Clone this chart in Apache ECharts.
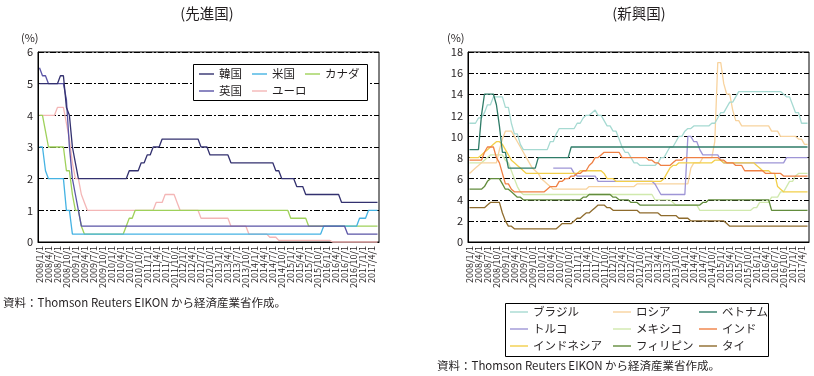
<!DOCTYPE html>
<html>
<head>
<meta charset="utf-8">
<script src="https://cdn.jsdelivr.net/npm/echarts@6/dist/echarts.min.js"></script>
<style>
  html, body { margin: 0; padding: 0; background: #fff; }
  #main { width: 814px; height: 376px; }
</style>
</head>
<body>
<div id="main"></div>
<script>
// monthly categories 2008/1 .. 2017/6
const YEARS = [2008, 2009, 2010, 2011, 2012, 2013, 2014, 2015, 2016, 2017];
const MONTHS = [];
YEARS.forEach(function (y) {
  for (let m = 1; m <= 12; m++) MONTHS.push(y + '/' + m + '/1');
});
MONTHS.length = 114;

// ---- 先進国 (%)
const KOREA = [
  5, 5, 5, 5, 5, 5, 5, 5.25, 5.25, 4.25, 4, 3,
  2.5, 2, 2, 2, 2, 2, 2, 2, 2, 2, 2, 2,
  2, 2, 2, 2, 2, 2, 2.25, 2.25, 2.25, 2.25, 2.5, 2.5,
  2.75, 2.75, 3, 3, 3, 3.25, 3.25, 3.25, 3.25, 3.25, 3.25, 3.25,
  3.25, 3.25, 3.25, 3.25, 3.25, 3.25, 3, 3, 3, 2.75, 2.75, 2.75,
  2.75, 2.75, 2.75, 2.75, 2.5, 2.5, 2.5, 2.5, 2.5, 2.5, 2.5, 2.5,
  2.5, 2.5, 2.5, 2.5, 2.5, 2.5, 2.5, 2.25, 2.25, 2, 2, 2,
  2, 2, 1.75, 1.75, 1.75, 1.5, 1.5, 1.5, 1.5, 1.5, 1.5, 1.5,
  1.5, 1.5, 1.5, 1.5, 1.5, 1.25, 1.25, 1.25, 1.25, 1.25, 1.25, 1.25,
  1.25, 1.25, 1.25, 1.25, 1.25, 1.25
];
const US = [
  3, 3, 2.25, 2, 2, 2, 2, 2, 2, 1, 1, 0.25,
  0.25, 0.25, 0.25, 0.25, 0.25, 0.25, 0.25, 0.25, 0.25, 0.25, 0.25, 0.25,
  0.25, 0.25, 0.25, 0.25, 0.25, 0.25, 0.25, 0.25, 0.25, 0.25, 0.25, 0.25,
  0.25, 0.25, 0.25, 0.25, 0.25, 0.25, 0.25, 0.25, 0.25, 0.25, 0.25, 0.25,
  0.25, 0.25, 0.25, 0.25, 0.25, 0.25, 0.25, 0.25, 0.25, 0.25, 0.25, 0.25,
  0.25, 0.25, 0.25, 0.25, 0.25, 0.25, 0.25, 0.25, 0.25, 0.25, 0.25, 0.25,
  0.25, 0.25, 0.25, 0.25, 0.25, 0.25, 0.25, 0.25, 0.25, 0.25, 0.25, 0.25,
  0.25, 0.25, 0.25, 0.25, 0.25, 0.25, 0.25, 0.25, 0.25, 0.25, 0.25, 0.5,
  0.5, 0.5, 0.5, 0.5, 0.5, 0.5, 0.5, 0.5, 0.5, 0.5, 0.5, 0.75,
  0.75, 0.75, 1, 1, 1, 1
];
const CANADA = [
  4, 4, 3.5, 3, 3, 3, 3, 3, 3, 2.25, 2.25, 1.5,
  1, 1, 0.5, 0.25, 0.25, 0.25, 0.25, 0.25, 0.25, 0.25, 0.25, 0.25,
  0.25, 0.25, 0.25, 0.25, 0.25, 0.5, 0.75, 0.75, 1, 1, 1, 1,
  1, 1, 1, 1, 1, 1, 1, 1, 1, 1, 1, 1,
  1, 1, 1, 1, 1, 1, 1, 1, 1, 1, 1, 1,
  1, 1, 1, 1, 1, 1, 1, 1, 1, 1, 1, 1,
  1, 1, 1, 1, 1, 1, 1, 1, 1, 1, 1, 1,
  0.75, 0.75, 0.75, 0.75, 0.75, 0.75, 0.5, 0.5, 0.5, 0.5, 0.5, 0.5,
  0.5, 0.5, 0.5, 0.5, 0.5, 0.5, 0.5, 0.5, 0.5, 0.5, 0.5, 0.5,
  0.5, 0.5, 0.5, 0.5, 0.5, 0.5
];
const UK = [
  5.5, 5.25, 5.25, 5, 5, 5, 5, 5, 5, 4.5, 3, 2,
  1.5, 1, 0.5, 0.5, 0.5, 0.5, 0.5, 0.5, 0.5, 0.5, 0.5, 0.5,
  0.5, 0.5, 0.5, 0.5, 0.5, 0.5, 0.5, 0.5, 0.5, 0.5, 0.5, 0.5,
  0.5, 0.5, 0.5, 0.5, 0.5, 0.5, 0.5, 0.5, 0.5, 0.5, 0.5, 0.5,
  0.5, 0.5, 0.5, 0.5, 0.5, 0.5, 0.5, 0.5, 0.5, 0.5, 0.5, 0.5,
  0.5, 0.5, 0.5, 0.5, 0.5, 0.5, 0.5, 0.5, 0.5, 0.5, 0.5, 0.5,
  0.5, 0.5, 0.5, 0.5, 0.5, 0.5, 0.5, 0.5, 0.5, 0.5, 0.5, 0.5,
  0.5, 0.5, 0.5, 0.5, 0.5, 0.5, 0.5, 0.5, 0.5, 0.5, 0.5, 0.5,
  0.5, 0.5, 0.5, 0.5, 0.5, 0.5, 0.5, 0.25, 0.25, 0.25, 0.25, 0.25,
  0.25, 0.25, 0.25, 0.25, 0.25, 0.25
];
const EURO = [
  4, 4, 4, 4, 4, 4, 4.25, 4.25, 4.25, 3.75, 3.25, 2.5,
  2, 2, 1.5, 1.25, 1, 1, 1, 1, 1, 1, 1, 1,
  1, 1, 1, 1, 1, 1, 1, 1, 1, 1, 1, 1,
  1, 1, 1, 1.25, 1.25, 1.25, 1.5, 1.5, 1.5, 1.5, 1.25, 1,
  1, 1, 1, 1, 1, 1, 0.75, 0.75, 0.75, 0.75, 0.75, 0.75,
  0.75, 0.75, 0.75, 0.75, 0.5, 0.5, 0.5, 0.5, 0.5, 0.5, 0.25, 0.25,
  0.25, 0.25, 0.25, 0.25, 0.25, 0.15, 0.15, 0.15, 0.05, 0.05, 0.05, 0.05,
  0.05, 0.05, 0.05, 0.05, 0.05, 0.05, 0.05, 0.05, 0.05, 0.05, 0.05, 0.05,
  0.05, 0.05, 0, 0, 0, 0, 0, 0, 0, 0, 0, 0,
  0, 0, 0, 0, 0, 0
];

// ---- 新興国 (%)
const BRAZIL = [
  11.25, 11.25, 11.25, 11.75, 11.75, 12.25, 13, 13, 13.75, 13.75, 13.75, 13.75,
  12.75, 12.75, 11.25, 10.25, 10.25, 9.25, 8.75, 8.75, 8.75, 8.75, 8.75, 8.75,
  8.75, 8.75, 8.75, 9.5, 9.5, 10.25, 10.75, 10.75, 10.75, 10.75, 10.75, 10.75,
  11.25, 11.25, 11.75, 12, 12, 12.25, 12.5, 12, 12, 11.5, 11, 11,
  10.5, 10.5, 9.75, 9, 8.5, 8.5, 8, 7.5, 7.5, 7.25, 7.25, 7.25,
  7.25, 7.25, 7.25, 7.5, 8, 8, 8.5, 9, 9, 9.5, 10, 10,
  10.5, 10.75, 10.75, 11, 11, 11, 11, 11, 11, 11.25, 11.25, 11.75,
  12.25, 12.25, 12.75, 13.25, 13.25, 13.75, 14.25, 14.25, 14.25, 14.25, 14.25, 14.25,
  14.25, 14.25, 14.25, 14.25, 14.25, 14.25, 14.25, 14.25, 14.25, 14, 13.75, 13.75,
  13, 12.25, 12.25, 11.25, 11.25, 11.25
];
const RUSSIA = [
  6.5, 6.75, 7, 7.25, 7.5, 7.5, 7.5, 7.5, 7.5, 7.5, 8.75, 9.75,
  10.5, 10.5, 10.5, 10, 9.5, 9, 8.5, 8, 7.5, 7, 6.75, 6.5,
  6, 5.75, 5.5, 5.25, 5, 5, 5, 5, 5, 5, 5, 5,
  5, 5, 5, 5, 5.25, 5.25, 5.25, 5.25, 5.25, 5.25, 5.25, 5.25,
  5.25, 5.25, 5.25, 5.25, 5.25, 5.25, 5.25, 5.25, 5.5, 5.5, 5.5, 5.5,
  5.5, 5.5, 5.5, 5.5, 5.5, 5.5, 5.5, 5.5, 5.5, 5.5, 5.5, 5.5,
  5.5, 5.5, 7, 7.5, 7.5, 7.5, 8, 8, 8, 8, 9.5, 17,
  17, 15, 14, 14, 12.5, 11.5, 11.5, 11, 11, 11, 11, 11,
  11, 11, 11, 11, 11, 10.5, 10.5, 10.5, 10, 10, 10, 10,
  10, 10, 9.75, 9.75, 9.25, 9.25
];
const VIETNAM = [
  8.75, 8.75, 8.75, 8.75, 12, 14, 14, 14, 14, 13, 11, 8.5,
  8.5, 7, 7, 7, 7, 7, 7, 7, 7, 7, 7, 8,
  8, 8, 8, 8, 8, 8, 8, 8, 8, 8, 9, 9,
  9, 9, 9, 9, 9, 9, 9, 9, 9, 9, 9, 9,
  9, 9, 9, 9, 9, 9, 9, 9, 9, 9, 9, 9,
  9, 9, 9, 9, 9, 9, 9, 9, 9, 9, 9, 9,
  9, 9, 9, 9, 9, 9, 9, 9, 9, 9, 9, 9,
  9, 9, 9, 9, 9, 9, 9, 9, 9, 9, 9, 9,
  9, 9, 9, 9, 9, 9, 9, 9, 9, 9, 9, 9,
  9, 9, 9, 9, 9, 9
];
const TURKEY = [
  null, null, null, null, null, null, null, null, null, null, null, null,
  null, null, null, null, null, null, null, null, null, null, null, null,
  null, null, null, null, 7, 7, 7, 7, 7, 7, 7, 6.5,
  6.25, 6.25, 6.25, 6.25, 6.25, 6.25, 6.25, 5.75, 5.75, 5.75, 5.75, 5.75,
  5.75, 5.75, 5.75, 5.75, 5.75, 5.75, 5.75, 5.75, 5.75, 5.75, 5.75, 5.75,
  5.75, 5.75, 5.5, 5, 4.5, 4.5, 4.5, 4.5, 4.5, 4.5, 4.5, 4.5,
  4.5, 10, 10, 9.5, 9.5, 8.75, 8.25, 8.25, 8.25, 8.25, 8.25, 8.25,
  7.75, 7.5, 7.5, 7.5, 7.5, 7.5, 7.5, 7.5, 7.5, 7.5, 7.5, 7.5,
  7.5, 7.5, 7.5, 7.5, 7.5, 7.5, 7.5, 7.5, 7.5, 7.5, 8, 8,
  8, 8, 8, 8, 8, 8
];
const MEXICO = [
  7.5, 7.5, 7.5, 7.5, 7.5, 7.75, 8, 8.25, 8.25, 8.25, 8.25, 8.25,
  7.75, 7.5, 6.75, 6, 5.25, 4.75, 4.5, 4.5, 4.5, 4.5, 4.5, 4.5,
  4.5, 4.5, 4.5, 4.5, 4.5, 4.5, 4.5, 4.5, 4.5, 4.5, 4.5, 4.5,
  4.5, 4.5, 4.5, 4.5, 4.5, 4.5, 4.5, 4.5, 4.5, 4.5, 4.5, 4.5,
  4.5, 4.5, 4.5, 4.5, 4.5, 4.5, 4.5, 4.5, 4.5, 4.5, 4.5, 4.5,
  4.5, 4.5, 4, 4, 4, 4, 4, 4, 3.75, 3.5, 3.5, 3.5,
  3.5, 3.5, 3.5, 3.5, 3.5, 3, 3, 3, 3, 3, 3, 3,
  3, 3, 3, 3, 3, 3, 3, 3, 3, 3, 3, 3.25,
  3.25, 3.75, 3.75, 3.75, 3.75, 4.25, 4.25, 4.25, 4.75, 4.75, 5.25, 5.75,
  5.75, 6.25, 6.5, 6.5, 6.5, 6.5
];
const INDIA = [
  7.75, 7.75, 7.75, 7.75, 7.75, 8.5, 9, 9, 9, 8, 7.5, 6.5,
  5.5, 5.5, 5, 4.75, 4.75, 4.75, 4.75, 4.75, 4.75, 4.75, 4.75, 4.75,
  4.75, 4.75, 5, 5.25, 5.25, 5.25, 5.75, 5.75, 6, 6, 6.25, 6.25,
  6.5, 6.5, 6.75, 6.75, 7.25, 7.5, 8, 8, 8.25, 8.5, 8.5, 8.5,
  8.5, 8.5, 8.5, 8, 8, 8, 8, 8, 8, 8, 8, 8,
  7.75, 7.75, 7.5, 7.5, 7.25, 7.25, 7.25, 7.25, 7.5, 7.75, 7.75, 7.75,
  8, 8, 8, 8, 8, 8, 8, 8, 8, 8, 8, 8,
  7.75, 7.75, 7.5, 7.5, 7.5, 7.25, 7.25, 7.25, 6.75, 6.75, 6.75, 6.75,
  6.75, 6.75, 6.75, 6.5, 6.5, 6.5, 6.5, 6.5, 6.5, 6.25, 6.25, 6.25,
  6.25, 6.25, 6.25, 6.25, 6.25, 6.25
];
const INDONESIA = [
  8, 8, 8, 8, 8.25, 8.5, 8.75, 9, 9.25, 9.5, 9.5, 9.25,
  8.75, 8.25, 7.75, 7.5, 7.25, 7, 6.75, 6.5, 6.5, 6.5, 6.5, 6.5,
  6.5, 6.5, 6.5, 6.5, 6.5, 6.5, 6.5, 6.5, 6.5, 6.5, 6.5, 6.5,
  6.5, 6.75, 6.75, 6.75, 6.75, 6.75, 6.75, 6.75, 6.75, 6.5, 6, 6,
  6, 5.75, 5.75, 5.75, 5.75, 5.75, 5.75, 5.75, 5.75, 5.75, 5.75, 5.75,
  5.75, 5.75, 5.75, 5.75, 5.75, 6, 6.5, 7, 7.25, 7.25, 7.5, 7.5,
  7.5, 7.5, 7.5, 7.5, 7.5, 7.5, 7.5, 7.5, 7.5, 7.5, 7.75, 7.75,
  7.75, 7.5, 7.5, 7.5, 7.5, 7.5, 7.5, 7.5, 7.5, 7.5, 7.5, 7.5,
  7.25, 7, 6.75, 6.75, 6.75, 6.5, 6.5, 5.25, 5, 4.75, 4.75, 4.75,
  4.75, 4.75, 4.75, 4.75, 4.75, 4.75
];
const PHILIPPINES = [
  5, 5, 5, 5, 5, 5.25, 5.75, 6, 6, 6, 6, 5.5,
  5, 5, 4.75, 4.5, 4.25, 4.25, 4, 4, 4, 4, 4, 4,
  4, 4, 4, 4, 4, 4, 4, 4, 4, 4, 4, 4,
  4, 4, 4.25, 4.25, 4.5, 4.5, 4.5, 4.5, 4.5, 4.5, 4.5, 4.5,
  4.25, 4.25, 4, 4, 4, 4, 3.75, 3.75, 3.75, 3.5, 3.5, 3.5,
  3.5, 3.5, 3.5, 3.5, 3.5, 3.5, 3.5, 3.5, 3.5, 3.5, 3.5, 3.5,
  3.5, 3.5, 3.5, 3.5, 3.5, 3.5, 3.75, 3.75, 4, 4, 4, 4,
  4, 4, 4, 4, 4, 4, 4, 4, 4, 4, 4, 4,
  4, 4, 4, 4, 4, 3, 3, 3, 3, 3, 3, 3,
  3, 3, 3, 3, 3, 3
];
const THAILAND = [
  3.25, 3.25, 3.25, 3.25, 3.25, 3.25, 3.5, 3.75, 3.75, 3.75, 3.75, 2.75,
  2, 1.5, 1.5, 1.25, 1.25, 1.25, 1.25, 1.25, 1.25, 1.25, 1.25, 1.25,
  1.25, 1.25, 1.25, 1.25, 1.25, 1.25, 1.5, 1.75, 1.75, 1.75, 1.75, 2,
  2.25, 2.25, 2.5, 2.75, 2.75, 3, 3.25, 3.5, 3.5, 3.5, 3.25, 3.25,
  3, 3, 3, 3, 3, 3, 3, 3, 3, 2.75, 2.75, 2.75,
  2.75, 2.75, 2.75, 2.75, 2.5, 2.5, 2.5, 2.5, 2.5, 2.5, 2.25, 2.25,
  2.25, 2.25, 2, 2, 2, 2, 2, 2, 2, 2, 2, 2,
  2, 2, 1.75, 1.5, 1.5, 1.5, 1.5, 1.5, 1.5, 1.5, 1.5, 1.5,
  1.5, 1.5, 1.5, 1.5, 1.5, 1.5, 1.5, 1.5, 1.5, 1.5, 1.5, 1.5,
  1.5, 1.5, 1.5, 1.5, 1.5, 1.5
];

const FONT = '"Noto Sans CJK JP", "Noto Sans", sans-serif';
const TEXT = '#231f20';

function line(name, data, color, idx) {
  return {
    name: name,
    type: 'line',
    xAxisIndex: idx,
    yAxisIndex: idx,
    data: data,
    symbol: 'none',
    clip: false,
    z: 3,
    lineStyle: { width: 1.3, color: color },
    itemStyle: { color: color }
  };
}

function xAxis(idx) {
  return {
    gridIndex: idx,
    type: 'category',
    data: MONTHS,
    boundaryGap: true,
    axisLine: { lineStyle: { color: '#000', width: 1 } },
    axisTick: { inside: true, length: 4, interval: 2, alignWithLabel: true, lineStyle: { color: '#000' } },
    axisLabel: { interval: 2, rotate: 90, fontSize: 9, color: TEXT, margin: 4, fontFamily: FONT },
    splitLine: { show: false }
  };
}

function yAxis(idx, max, step) {
  return {
    gridIndex: idx,
    type: 'value',
    min: 0,
    max: max,
    interval: step,
    axisLine: { show: true, lineStyle: { color: '#000' } },
    axisTick: { show: false },
    axisLabel: { fontSize: 11, color: TEXT, margin: 5, fontFamily: FONT },
    splitLine: { lineStyle: { color: '#000', width: 1, type: [6, 2, 2, 2] } }
  };
}

function colLegend(names, left, top, itemWidth) {
  return {
    data: names,
    orient: 'vertical',
    left: left,
    top: top,
    padding: 0,
    itemGap: 3,
    icon: 'rect',
    itemWidth: itemWidth,
    itemHeight: 1.4,
    selectedMode: false,
    textStyle: { fontSize: 11.5, lineHeight: 14, height: 14, color: TEXT, fontFamily: FONT }
  };
}

function label(x, y, text, size, align) {
  return {
    type: 'text',
    x: x,
    y: y,
    z: 5,
    style: { text: text, font: size + 'px ' + FONT, fill: TEXT, align: align, verticalAlign: 'middle' }
  };
}

const option = {
  backgroundColor: '#fff',
  animation: false,
  grid: [
    { left: 38, top: 52, width: 341, height: 190, show: true, borderColor: '#000', borderWidth: 1 },
    { left: 468, top: 52, width: 341, height: 190, show: true, borderColor: '#000', borderWidth: 1 }
  ],
  xAxis: [xAxis(0), xAxis(1)],
  yAxis: [yAxis(0, 6, 1), yAxis(1, 18, 2)],
  legend: [
    colLegend(['韓国', '英国'], 199, 67, 15),
    colLegend(['米国', 'ユーロ'], 252, 67, 15),
    colLegend(['カナダ'], 305, 67, 15),
    colLegend(['ブラジル', 'トルコ', 'インドネシア'], 510, 305, 18),
    colLegend(['ロシア', 'メキシコ', 'フィリピン'], 613, 305, 18),
    colLegend(['ベトナム', 'インド', 'タイ'], 699, 305, 18)
  ],
  graphic: [
    { type: 'rect', z: 4, shape: { x: 193.5, y: 64.5, width: 174, height: 36 },
      style: { fill: '#fff', stroke: '#000', lineWidth: 1 } },
    { type: 'rect', z: 4, shape: { x: 505.5, y: 303.5, width: 263, height: 53 },
      style: { fill: '#fff', stroke: '#000', lineWidth: 1 } },
    label(207, 13, '(先進国)', 14.5, 'center'),
    label(639, 13, '(新興国)', 14.5, 'center'),
    label(21, 38, '(%)', 11, 'left'),
    label(447, 38, '(%)', 11, 'left'),
    label(3, 303, '資料：Thomson Reuters EIKON から経済産業省作成。', 11.5, 'left'),
    label(437, 366, '資料：Thomson Reuters EIKON から経済産業省作成。', 11.5, 'left')
  ],
  series: [
    line('ユーロ', EURO, '#f4b6b6', 0),
    line('カナダ', CANADA, '#9fd15a', 0),
    line('米国', US, '#45b3e3', 0),
    line('英国', UK, '#5a54a6', 0),
    line('韓国', KOREA, '#33316f', 0),

    line('メキシコ', MEXICO, '#d0e9ad', 1),
    line('ロシア', RUSSIA, '#f8d39e', 1),
    line('ブラジル', BRAZIL, '#a6dad2', 1),
    line('トルコ', TURKEY, '#9e95d6', 1),
    line('インドネシア', INDONESIA, '#f2cf4a', 1),
    line('インド', INDIA, '#ef8044', 1),
    line('フィリピン', PHILIPPINES, '#628c3c', 1),
    line('タイ', THAILAND, '#8e6b2c', 1),
    line('ベトナム', VIETNAM, '#2f7c68', 1)
  ]
};

let myChart = echarts.init(document.getElementById('main'));
myChart.setOption(option);
window.addEventListener('resize', function () {
  myChart.resize();
});
</script>
</body>
</html>
